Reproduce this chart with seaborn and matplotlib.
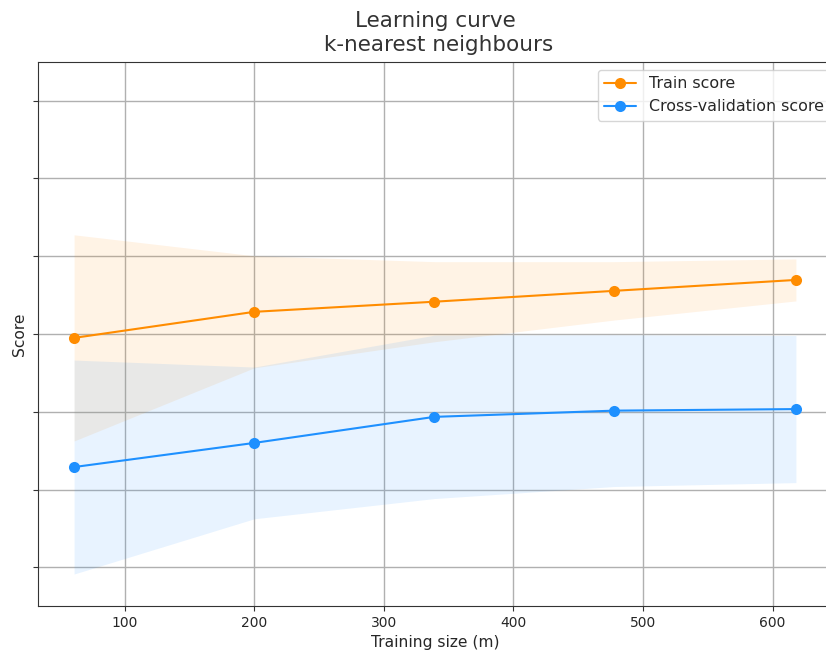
import numpy as np
import pandas as pd
import matplotlib
matplotlib.use("Agg")
import matplotlib.pyplot as plt
import seaborn as sns

# Learning-curve results for a k-nearest neighbours classifier
train_sizes = [61, 200, 339, 478, 618]
train_mean = [0.7590, 0.7657, 0.7683, 0.7711, 0.7739]
train_std = [0.0265, 0.0144, 0.0103, 0.0075, 0.0054]
cv_mean = [0.7258, 0.7320, 0.7387, 0.7403, 0.7407]
cv_std = [0.0275, 0.0195, 0.0210, 0.0195, 0.0189]
y_ticks = [0.70, 0.72, 0.74, 0.76, 0.78, 0.80, 0.82]
x_ticks = [100, 200, 300, 400, 500, 600]

train_color = "darkorange"
cv_color = "dodgerblue"

sns.set_style("ticks")
plt.rcParams["font.family"] = ["DejaVu Sans"]

fig = plt.figure(figsize=(8.26, 6.61), dpi=100)
ax = fig.add_axes([38 / 826, 55 / 661, 794 / 826, 544 / 661])

sizes = np.array(train_sizes)
tm, ts = np.array(train_mean), np.array(train_std)
cm, cs = np.array(cv_mean), np.array(cv_std)

ax.fill_between(sizes, tm - ts, tm + ts, color=train_color, alpha=0.1, linewidth=0)
ax.fill_between(sizes, cm - cs, cm + cs, color=cv_color, alpha=0.1, linewidth=0)

df = pd.DataFrame({
    "size": np.concatenate([sizes, sizes]),
    "score": np.concatenate([tm, cm]),
    "curve": ["Train score"] * len(sizes) + ["Cross-validation score"] * len(sizes),
})
sns.lineplot(data=df, x="size", y="score", hue="curve", marker="o",
             markersize=8, markeredgewidth=0, linewidth=1.5,
             palette={"Train score": train_color, "Cross-validation score": cv_color},
             ax=ax)

ax.set_xlim(33.15, 645.85)
ax.set_ylim(0.69008, 0.82992)
ax.set_xticks(x_ticks)
ax.set_yticks(y_ticks)
ax.tick_params(axis="y", labelleft=False)
ax.tick_params(axis="both", labelsize=10, color="#333333")
ax.grid(True, color="#b0b0b0", linewidth=1.0)
for s in ax.spines.values():
    s.set_color("#333333")

ax.set_xlabel("Training size (m)", fontsize=11.2)
ax.set_ylabel("Score", fontsize=11.2)
ax.yaxis.set_label_coords(-0.0139, 0.5)
ax.set_title("Learning curve\n k-nearest neighbours", fontsize=15.5,
             color="#333333", pad=8, linespacing=1.25)

leg = ax.legend(loc="upper left", bbox_to_anchor=(0.7053, 0.9853),
                borderaxespad=0, fontsize=11.4, frameon=True)
leg.set_title(None)

fig.savefig("out.png", dpi=100)
